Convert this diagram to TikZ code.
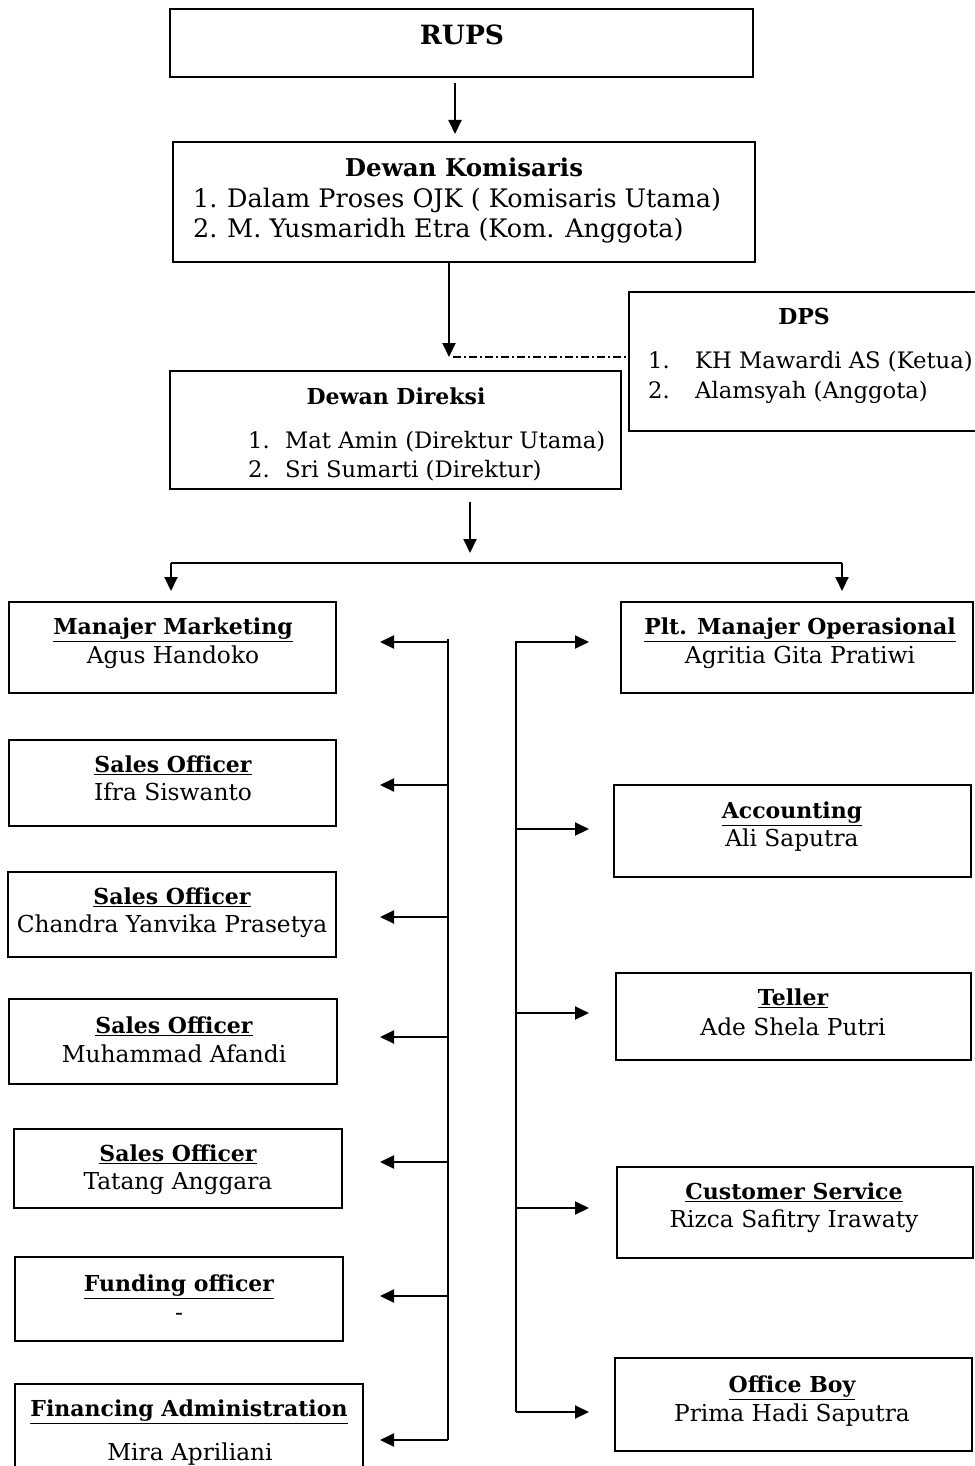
\documentclass[tikz,border=0pt]{standalone}
\usepackage{fontspec}
\setmainfont{DejaVu Serif}
\usetikzlibrary{arrows.meta}
\newcommand\bx[5]{\node[box,minimum width={#4-#2},minimum height={#5-#3}] (#1) at ({(#2+#4)/2},{(#3+#5)/2}) {};}
\begin{document}
\begin{tikzpicture}[x=1pt,y=-1pt,
  box/.style={draw,line width=1.6pt,rectangle,inner sep=0pt},
  lbl/.style={inner sep=0pt,text height=7.2pt,text depth=0pt,yshift=-5pt,font=\fontsize{23.3}{27}\selectfont},
  ttl/.style={lbl,font=\fontsize{22}{26}\selectfont\bfseries},
  mid/.style={lbl,font=\fontsize{22.7}{26}\selectfont},
  midb/.style={lbl,font=\fontsize{22}{26}\selectfont\bfseries},
  big/.style={lbl,font=\fontsize{25.5}{30}\selectfont},
  bigb/.style={lbl,font=\fontsize{24.5}{29}\selectfont\bfseries},
  conn/.style={line width=2pt,-{Triangle[length=14pt,width=13pt]}},
  rail/.style={line width=1.5pt},
  dd/.style={line width=1.2pt,dash pattern=on 8pt off 3pt on 2pt off 3pt}]
\useasboundingbox (0,0) rectangle (974,1466);
% boxes
\bx{rups}{170}{9}{753}{77}
\bx{kom}{173}{142}{755}{262}
\bx{dps}{629}{292}{985}{431}
\bx{dir}{170}{371}{621}{489}
\bx{mm}{9}{602}{336}{693}
\bx{so1}{9}{740}{336}{826}
\bx{so2}{8}{872}{336}{957}
\bx{so3}{9}{999}{337}{1084}
\bx{so4}{14}{1129}{342}{1208}
\bx{fo}{15}{1257}{343}{1341}
\bx{fa}{15}{1384}{363}{1480}
\bx{ops}{621}{602}{973}{693}
\bx{acc}{614}{785}{971}{877}
\bx{tel}{616}{973}{971}{1060}
\bx{cs}{617}{1167}{973}{1258}
\bx{ob}{615}{1358}{972}{1451}
% texts
\node[lbl,font=\fontsize{26.5}{30}\selectfont\bfseries] (trups) at (462,36) {RUPS};
\node[bigb] (tkom) at (464,168) {Dewan Komisaris};
\node[big,anchor=west] (k1) at (193,199) {\makebox[34pt][l]{1.}Dalam Proses OJK ( Komisaris Utama)};
\node[big,anchor=west] (k2) at (193,229) {\makebox[34pt][l]{2.}M. Yusmaridh Etra (Kom. Anggota)};
\node[midb] (tdps) at (804,316) {DPS};
\node[mid,anchor=west] (d1) at (648,360) {\makebox[47pt][l]{1.}KH Mawardi AS (Ketua)};
\node[mid,anchor=west] (d2) at (648,390) {\makebox[47pt][l]{2.}Alamsyah (Anggota)};
\node[midb] (tdir) at (396,396) {Dewan Direksi};
\node[mid,anchor=west] (r1) at (248,440) {\makebox[37pt][l]{1.}Mat Amin (Direktur Utama)};
\node[mid,anchor=west] (r2) at (248,469) {\makebox[37pt][l]{2.}Sri Sumarti (Direktur)};
\node[ttl] (tmm) at (173,626) {\underline{Manajer Marketing}};
\node[lbl] (nmm) at (173,655) {Agus Handoko};
\node[ttl] (tso1) at (173,764) {\underline{Sales Officer}};
\node[lbl] (nso1) at (173,792) {Ifra Siswanto};
\node[ttl] (tso2) at (172,896) {\underline{Sales Officer}};
\node[lbl] (nso2) at (172,924) {Chandra Yanvika Prasetya};
\node[ttl] (tso3) at (174,1025) {\underline{Sales Officer}};
\node[lbl] (nso3) at (174,1054) {Muhammad Afandi};
\node[ttl] (tso4) at (178,1153) {\underline{Sales Officer}};
\node[lbl] (nso4) at (178,1181) {Tatang Anggara};
\node[ttl] (tfo) at (179,1283) {\underline{Funding officer}};
\node[lbl] (nfo) at (179,1312) {-};
\node[ttl] (tfa) at (189,1408) {\underline{Financing Administration}};
\node[lbl] (nfa) at (190,1452) {Mira Apriliani};
\node[ttl] (tops) at (800,626) {\underline{Plt. Manajer Operasional}};
\node[lbl] (nops) at (800,655) {Agritia Gita Pratiwi};
\node[ttl] (tacc) at (792,810) {\underline{Accounting}};
\node[lbl] (nacc) at (792,838) {Ali Saputra};
\node[ttl] (ttel) at (793,997) {\underline{Teller}};
\node[lbl] (ntel) at (793,1027) {Ade Shela Putri};
\node[ttl] (tcs) at (794,1191) {\underline{Customer Service}};
\node[lbl] (ncs) at (794,1219) {Rizca Safitry Irawaty};
\node[ttl] (tob) at (792,1384) {\underline{Office Boy}};
\node[lbl] (nob) at (792,1413) {Prima Hadi Saputra};
% connectors
\coordinate (a1s) at (455,83); \coordinate (a1e) at (455,134);
\draw[conn] (a1s) -- (a1e);
\coordinate (a2s) at (449,262); \coordinate (a2e) at (449,357);
\draw[conn] (a2s) -- (a2e);
\coordinate (dds) at (453,357);
\draw[dd] (dds) -- (dds -| dps.west);
\coordinate (a3s) at (470,502); \coordinate (a3e) at (470,553);
\draw[conn] (a3s) -- (a3e);
\coordinate (hl) at (171,563); \coordinate (hr) at (842,563);
\coordinate (tl) at (171,591); \coordinate (tr) at (842,591);
\draw[rail] (hl) -- (hr);
\draw[conn] (hl) -- (tl);
\draw[conn] (hr) -- (tr);
\coordinate (lt) at (448,639); \coordinate (lb) at (448,1440);
\draw[rail] (lt) -- (lb);
\foreach \y [count=\i] in {642,785,917,1037,1162,1296,1440}{
  \coordinate (L\i a) at (448,\y); \coordinate (L\i b) at (380,\y);
  \draw[conn] (L\i a) -- (L\i b);}
\coordinate (rt) at (516,641); \coordinate (rb) at (516,1412);
\draw[rail] (rt) -- (rb);
\foreach \y [count=\i] in {642,829,1013,1208,1412}{
  \coordinate (R\i a) at (516,\y); \coordinate (R\i b) at (589,\y);
  \draw[conn] (R\i a) -- (R\i b);}
\end{tikzpicture}
\end{document}
